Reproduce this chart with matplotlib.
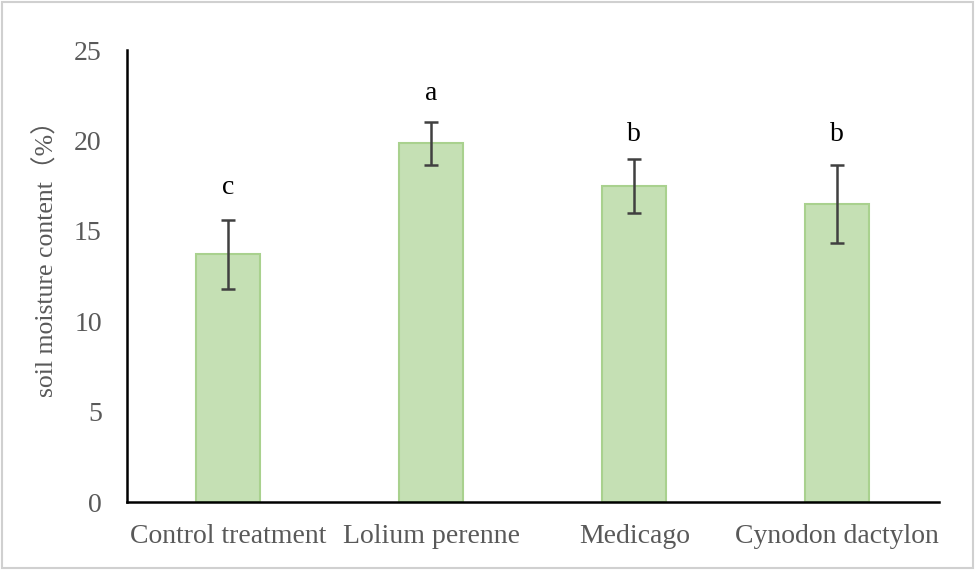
import matplotlib
matplotlib.use("Agg")
import matplotlib.pyplot as plt
from matplotlib.patches import Rectangle

categories = ['Control treatment', 'Lolium perenne', 'Medicago', 'Cynodon dactylon']
moisture = [13.7, 19.85, 17.5, 16.5]
errors = [1.9, 1.2, 1.5, 2.15]
letters = ['c', 'a', 'b', 'b']
letter_y = [17.4, 22.6, 20.35, 20.35]

plt.rcParams['font.family'] = ['Liberation Serif', 'Noto Sans CJK SC']

fig = plt.figure(figsize=(9.75, 5.7), dpi=100)
ax = fig.add_axes([0.130, 0.119, 0.833, 0.793])

x = range(len(categories))
ax.bar(x, moisture, width=0.315, color='#c5e0b4', edgecolor='#a9d18e', linewidth=1.5)
ax.errorbar(x, moisture, yerr=errors, fmt='none', ecolor='#404040', elinewidth=1.8,
            capsize=5, capthick=1.8)

# significance letters
for i in x:
    ax.text(i, letter_y[i], letters[i], ha='center', va='center',
            fontsize=20, color='black')

ax.set_xlim(-0.5, 3.5)
ax.set_ylim(0, 25)
ax.set_yticks([0, 5, 10, 15, 20, 25])
ax.set_xticks(list(x))
ax.set_xticklabels(categories)
ax.tick_params(axis='both', length=0, labelsize=20, labelcolor='#595959')
ax.tick_params(axis='x', pad=16)
ax.tick_params(axis='y', pad=18)
ax.set_ylabel('soil moisture content（%）', fontsize=18.5, color='#595959')
ax.yaxis.set_label_coords(-0.084, 0.553)

for s in ['top', 'right']:
    ax.spines[s].set_visible(False)
for s in ['left', 'bottom']:
    ax.spines[s].set_linewidth(1.8)
    ax.spines[s].set_color('black')

fig.patches.append(Rectangle((0.002, 0.003), 0.996, 0.994, transform=fig.transFigure,
                             fill=False, edgecolor='#d0d0d0', linewidth=1.5))

fig.savefig('out.png', dpi=100)
